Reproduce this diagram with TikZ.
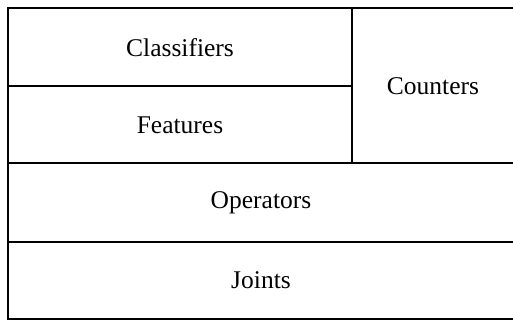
\documentclass[tikz,border=0pt]{standalone}
\usepackage{fontspec}
\setmainfont{Liberation Serif}
\usetikzlibrary{positioning}

\begin{document}
\begin{tikzpicture}[x=1pt, y=-1pt,
        layerbox/.style={draw, line width=2pt, inner sep=0pt,
                     font=\rmfamily\fontsize{25.5}{30}\selectfont, align=center},
      ]
        \useasboundingbox (0,0) rectangle (513,320);
        \node[layerbox, minimum width=344pt, minimum height=78pt] (cls) at (180, 47.5) {Classifiers};
        \node[layerbox, minimum width=344pt, minimum height=77pt] (feat) at (180, 125) {Features};
        \node[layerbox, minimum width=162pt, minimum height=155pt] (cnt) at (433, 86) {Counters};
        \node[layerbox, minimum width=506pt, minimum height=78pt] (ops) at (261, 202.5) {Operators};
        \node[layerbox, minimum width=506pt, minimum height=77pt] (jnt) at (261, 280) {Joints};
      \end{tikzpicture}
\end{document}
